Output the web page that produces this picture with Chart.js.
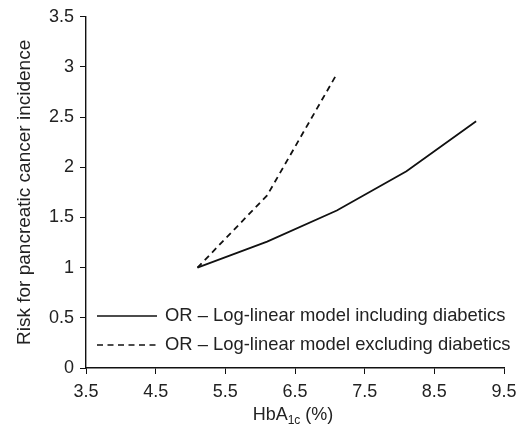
<!DOCTYPE html>
<html>
<head>
<meta charset="utf-8">
<script src="https://cdn.jsdelivr.net/npm/chart.js@4/dist/chart.umd.min.js"></script>
<style>
  html, body { margin: 0; padding: 0; background: #fff; }
  #wrap { width: 531px; height: 431px; }
</style>
</head>
<body>
<div id="wrap"><canvas id="myChart" width="531" height="431"></canvas></div>
<script>
// HbA1c values (%) and odds ratios for each model
const hba1c = [5.1, 6.1, 7.1, 8.1, 9.1];
const orIncluding = [1, 1.26, 1.57, 1.96, 2.46];
const orExcluding = [1, 1.72, 2.93];
const xTicks = [3.5, 4.5, 5.5, 6.5, 7.5, 8.5, 9.5];
const seriesNames = [
  "OR \u2013 Log-linear model including diabetics",
  "OR \u2013 Log-linear model excluding diabetics",
];

const FONT = "'Liberation Sans', Arial, sans-serif";
const INK = "#222";

const toPoints = (ys) => ys.map((y, i) => ({ x: hba1c[i], y }));

// legend box sits inside the plot area, bottom-left
const insideLegend = {
  id: "insideLegend",
  afterDraw(chart) {
    const { ctx, chartArea } = chart;
    const x0 = chartArea.left + 11;
    const rows = [chartArea.bottom - 52, chartArea.bottom - 23];
    ctx.save();
    ctx.font = `18.4px ${FONT}`;
    ctx.fillStyle = INK;
    ctx.textBaseline = "middle";
    rows.forEach((y, i) => {
      ctx.strokeStyle = "#111";
      ctx.lineWidth = 1.5;
      ctx.setLineDash(i === 0 ? [] : [6, 4.5]);
      ctx.beginPath();
      ctx.moveTo(x0, y);
      ctx.lineTo(x0 + 60, y);
      ctx.stroke();
      ctx.fillText(seriesNames[i], x0 + 68, y);
    });
    ctx.restore();
  },
};

// x axis title with subscript "1c"
const xTitle = {
  id: "xTitle",
  afterDraw(chart) {
    const { ctx, chartArea } = chart;
    const cx = (chartArea.left + chartArea.right) / 2 - 2;
    const y = 415;
    const a = "HbA";
    const b = "1c";
    const c = " (%)";
    ctx.save();
    ctx.fillStyle = INK;
    ctx.textBaseline = "middle";
    ctx.font = `18px ${FONT}`;
    const wa = ctx.measureText(a).width;
    const wc = ctx.measureText(c).width;
    ctx.font = `12px ${FONT}`;
    const wb = ctx.measureText(b).width;
    let x = cx - (wa + wb + wc) / 2;
    ctx.font = `18px ${FONT}`;
    ctx.fillText(a, x, y);
    x += wa;
    ctx.font = `12px ${FONT}`;
    ctx.fillText(b, x, y + 6);
    x += wb;
    ctx.font = `18px ${FONT}`;
    ctx.fillText(c, x, y);
    ctx.restore();
  },
};

const config = {
  type: "line",
  data: {
    datasets: [
      {
        label: seriesNames[0],
        data: toPoints(orIncluding),
        borderColor: "#111",
        borderWidth: 1.8,
        pointRadius: 0,
        tension: 0,
      },
      {
        label: seriesNames[1],
        data: toPoints(orExcluding),
        borderColor: "#111",
        borderWidth: 1.8,
        borderDash: [6, 4.5],
        pointRadius: 0,
        tension: 0,
      },
    ],
  },
  options: {
    responsive: false,
    animation: false,
    events: [],
    layout: { padding: { left: 0, right: 27, top: 15, bottom: 0 } },
    plugins: {
      legend: { display: false },
      tooltip: { enabled: false },
    },
    scales: {
      x: {
        type: "linear",
        min: 3.5,
        max: 9.5,
        afterBuildTicks: (scale) => {
          scale.ticks = xTicks.map((v) => ({ value: v }));
        },
        afterFit: (scale) => {
          scale.height = 63;
        },
        border: { display: true, color: "#111", width: 1.4 },
        grid: { display: true, drawOnChartArea: false, drawTicks: true, tickLength: 6, color: "#111" },
        ticks: {
          color: INK,
          font: { family: FONT, size: 18 },
          padding: 7,
          callback: (v) => v.toFixed(1),
          maxRotation: 0,
        },
      },
      y: {
        min: 0,
        max: 3.5,
        afterFit: (scale) => {
          scale.width = 86;
        },
        border: { display: true, color: "#111", width: 1.4 },
        grid: { display: true, drawOnChartArea: false, drawTicks: true, tickLength: 6, color: "#111" },
        ticks: {
          stepSize: 0.5,
          color: INK,
          font: { family: FONT, size: 18 },
          padding: 6,
          callback: (v) => String(v),
        },
        title: {
          display: true,
          text: "Risk for pancreatic cancer incidence",
          color: INK,
          font: { family: FONT, size: 19 },
          padding: { top: 13, bottom: 4 },
        },
      },
    },
  },
  plugins: [insideLegend, xTitle],
};

new Chart(document.getElementById("myChart"), config);
</script>
</body>
</html>
